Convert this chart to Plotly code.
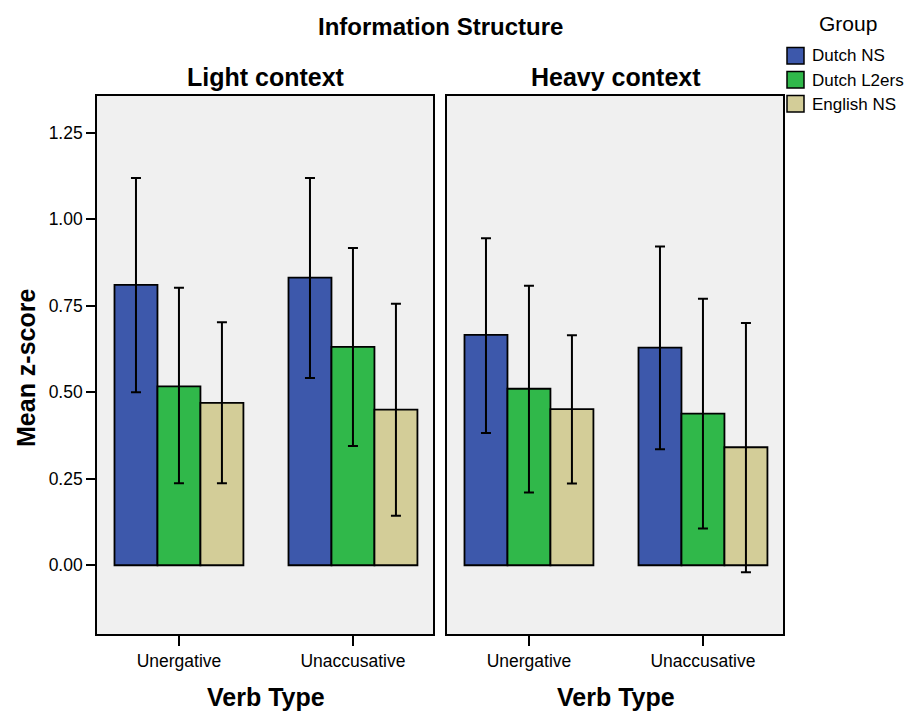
import plotly.graph_objects as go

# ---- data -------------------------------------------------------------
verb_types = ["Unergative", "Unaccusative"]
groups = ["Dutch NS", "Dutch L2ers", "English NS"]
colors = ["#3d58ab", "#30b84a", "#d3cd98"]

# mean z-scores per group, [Unergative, Unaccusative]
light_mean = {
    "Dutch NS": [0.810, 0.831],
    "Dutch L2ers": [0.517, 0.631],
    "English NS": [0.469, 0.450],
}
light_hi = {
    "Dutch NS": [1.119, 1.119],
    "Dutch L2ers": [0.802, 0.917],
    "English NS": [0.702, 0.756],
}
light_lo = {
    "Dutch NS": [0.500, 0.541],
    "Dutch L2ers": [0.237, 0.345],
    "English NS": [0.237, 0.143],
}

heavy_mean = {
    "Dutch NS": [0.666, 0.629],
    "Dutch L2ers": [0.510, 0.438],
    "English NS": [0.451, 0.341],
}
heavy_hi = {
    "Dutch NS": [0.945, 0.921],
    "Dutch L2ers": [0.808, 0.770],
    "English NS": [0.665, 0.700],
}
heavy_lo = {
    "Dutch NS": [0.382, 0.335],
    "Dutch L2ers": [0.210, 0.106],
    "English NS": [0.236, -0.020],
}

y_ticks = [0.00, 0.25, 0.50, 0.75, 1.00, 1.25]
y_ticktext = ["0.00", "0.25", "0.50", "0.75", "1.00", "1.25"]

# ---- geometry helpers (pixel -> paper) ------------------------------
W, H = 911, 712


def px(x):
    return x / W


def py(y):
    return 1 - y / H


FONT = "Arial, Liberation Sans, sans-serif"

fig = go.Figure()

panels = [
    ("x", "y", light_mean, light_hi, light_lo),
    ("x2", "y2", heavy_mean, heavy_hi, heavy_lo),
]
for xa, ya, mean, hi, lo in panels:
    for g, c in zip(groups, colors):
        m = mean[g]
        fig.add_trace(go.Bar(
            x=verb_types, y=m, name=g, xaxis=xa, yaxis=ya,
            marker=dict(color=c, line=dict(color="black", width=1.8)),
            error_y=dict(type="data", symmetric=False,
                         array=[h - v for h, v in zip(hi[g], m)],
                         arrayminus=[v - l for l, v in zip(lo[g], m)],
                         color="black", thickness=2, width=5),
            showlegend=False,
        ))

y_range = [-0.1986, 1.356]
x_range = [-0.471, 1.46]

axis_common = dict(
    showline=True, mirror=True, linecolor="black", linewidth=1.6,
    showgrid=False, zeroline=False,
)

fig.update_layout(
    width=W, height=H,
    margin=dict(l=0, r=0, t=0, b=0),
    paper_bgcolor="white",
    plot_bgcolor="#f0f0f0",
    barmode="group", bargap=0.259, bargroupgap=0,
    font=dict(family=FONT, color="black"),
    xaxis=dict(domain=[px(97), px(433)], range=x_range, type="category",
               ticks="outside", ticklen=10, tickwidth=1.8, tickcolor="black",
               tickfont=dict(size=17.5), anchor="y", **axis_common),
    xaxis2=dict(domain=[px(447), px(783)], range=x_range, type="category",
                ticks="outside", ticklen=10, tickwidth=1.8, tickcolor="black",
                tickfont=dict(size=17.5), anchor="y2", **axis_common),
    yaxis=dict(domain=[py(634), py(96)], range=y_range,
               tickvals=y_ticks, ticktext=y_ticktext,
               ticks="outside", ticklen=9, tickwidth=2, tickcolor="black",
               tickfont=dict(size=17.5), anchor="x", **axis_common),
    yaxis2=dict(domain=[py(634), py(96)], range=y_range,
                showticklabels=False, ticks="", anchor="x2", **axis_common),
)

annotations = [
    dict(text="<b>Information Structure</b>", x=px(440), y=py(27),
         font=dict(size=24)),
    dict(text="<b>Light context</b>", x=px(266), y=py(77), font=dict(size=25)),
    dict(text="<b>Heavy context</b>", x=px(616), y=py(77), font=dict(size=25)),
    dict(text="<b>Verb Type</b>", x=px(266), y=py(697), font=dict(size=25)),
    dict(text="<b>Verb Type</b>", x=px(616), y=py(697), font=dict(size=25)),
    dict(text="<b>Mean z-score</b>", x=px(26), y=py(368), textangle=-90,
         font=dict(size=25)),
    dict(text="Group", x=px(848), y=py(23), font=dict(size=21)),
]
for a in annotations:
    a.update(xref="paper", yref="paper", showarrow=False,
             xanchor="center", yanchor="middle")
    fig.add_annotation(**a)

# legend: swatches and labels built from the group list
shapes = []
for i, (g, c) in enumerate(zip(groups, colors)):
    top = 47.5 + i * 24
    shapes.append(dict(type="rect", xref="paper", yref="paper",
                       x0=px(787), x1=px(804), y0=py(top + 16.5), y1=py(top),
                       fillcolor=c, line=dict(color="black", width=1.5)))
    fig.add_annotation(text=g, x=px(810), y=py(top + 8.5), xref="paper",
                       yref="paper", showarrow=False, xanchor="left",
                       yanchor="middle", font=dict(size=17))
fig.update_layout(shapes=shapes)

fig.write_html("out.html")
